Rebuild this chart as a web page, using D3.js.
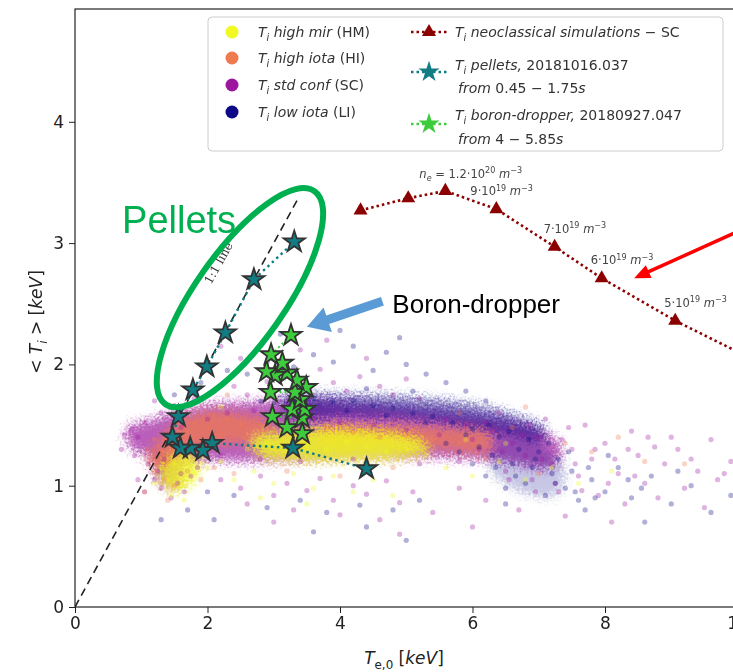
<!DOCTYPE html>
<html>
<head>
<meta charset="utf-8">
<script src="https://cdn.jsdelivr.net/npm/d3@7"></script>
<style>
  body { margin: 0; background: #fff; }
  svg { display: block; font-family: "DejaVu Sans", sans-serif; }
</style>
</head>
<body>
<svg id="chart" width="733" height="672"></svg>
<script>
// ---- data (Te,0 [keV], <Ti> [keV]) ----
const xTicks = [0, 2, 4, 6, 8, 10];
const yTicks = [0, 1, 2, 3, 4];

// dense cores of the scatter cloud (outlines)
const coreSC = [[[0.80,1.48],[1.13,1.54],[1.89,1.66],[2.64,1.69],[3.40,1.71],[4.15,1.68],[4.91,1.64],[5.67,1.60],[6.42,1.54],[7.00,1.46],[7.35,1.32],[7.20,1.15],[6.42,1.20],[5.67,1.23],[4.91,1.23],[4.15,1.23],[3.40,1.21],[2.64,1.20],[1.89,1.20],[1.44,1.13],[1.13,1.23],[0.80,1.34]],
                [[1.20,1.25],[1.50,1.22],[1.62,1.02],[1.40,0.98],[1.22,1.08]]];
const coreLI = [[[3.10,1.72],[4.15,1.75],[5.21,1.72],[6.12,1.66],[6.70,1.57],[7.10,1.47],[7.05,1.36],[6.60,1.40],[5.97,1.48],[5.21,1.54],[4.15,1.57],[3.25,1.57]],
                [[6.34,1.36],[7.02,1.32],[7.40,1.13],[7.25,0.92],[6.72,0.95],[6.27,1.13]]];
const coreHI = [[[1.28,1.38],[1.59,1.54],[2.04,1.61],[2.64,1.58],[3.02,1.50],[2.79,1.38],[2.19,1.34],[1.74,1.29],[1.36,1.13],[1.10,1.20]],
                [[3.70,1.48],[4.61,1.50],[5.51,1.48],[6.27,1.42],[6.27,1.29],[5.36,1.31],[4.46,1.33],[3.70,1.34]]];
const coreHM = [[[2.64,1.38],[3.25,1.46],[4.00,1.47],[4.76,1.44],[5.21,1.38],[5.36,1.29],[4.91,1.23],[4.15,1.21],[3.40,1.21],[2.79,1.25]],
                [[1.36,1.21],[1.66,1.28],[1.89,1.20],[1.81,1.05],[1.51,0.95],[1.28,1.05]]];

// sparse points around the cores
const haloSC = [[0.75,1.42],[0.85,1.46],[0.95,1.40],[0.70,1.30],[0.90,1.25],[1.05,1.52],[1.10,1.18],[1.20,1.05],[1.30,0.98],[1.25,1.12],[1.35,1.22],[1.45,0.90],[1.55,1.02],[1.60,1.10],[1.65,0.95],[1.75,1.08],[1.85,1.15],[1.30,1.60],[1.50,1.66],[1.20,1.70],[1.80,1.72],[1.05,0.95],[0.95,1.05],
  [2.10,1.78],[2.40,1.82],[2.60,1.75],[2.90,1.86],[3.20,1.92],[3.50,1.80],[3.70,1.96],[3.90,1.85],[4.10,1.78],[4.30,1.90],[4.60,1.82],[4.80,1.75],[5.00,1.88],[2.50,2.05],[3.40,2.12],[3.80,2.20],[4.40,2.05],[5.20,1.72],[2.20,2.15],
  [2.20,1.05],[2.50,0.98],[2.80,1.08],[3.00,0.92],[3.20,1.02],[3.50,0.96],[3.70,1.06],[3.90,0.88],[4.20,1.00],[4.40,0.93],[4.70,1.04],[4.90,0.86],[2.60,0.85],[3.30,0.80],[4.00,0.76],[4.60,0.72],[3.00,0.70],[5.10,0.95],
  [1.60,1.48],[2.00,1.55],[2.30,1.60],[2.70,1.62],[3.10,1.58],[3.60,1.55],[4.00,1.52],[4.50,1.50],[5.00,1.46],[5.50,1.42],[6.00,1.38],[2.20,1.25],[2.80,1.22],[3.40,1.20],[4.20,1.22],[5.20,1.18],[5.80,1.20],
  [5.60,1.55],[5.90,1.50],[6.10,1.30],[6.30,1.45],[6.50,1.12],[6.60,1.35],[6.80,1.25],[6.90,1.05],[7.00,1.40],[7.20,1.18],[7.30,0.95],[7.50,1.30],[7.60,1.08],[7.80,1.22],[7.90,0.92],[8.00,1.35],[8.20,1.10],[8.30,0.85],[8.50,1.25],[8.60,1.02],[8.80,0.90],[8.90,1.18],[9.10,1.30],[9.20,0.98],[9.40,1.12],[9.50,0.82],[9.70,1.05],[9.90,1.20],[10.0,0.95],[6.20,0.88],[6.70,0.80],[7.40,0.75],[8.10,0.70],[5.80,0.98],[6.40,1.60],[7.10,1.55],[7.70,1.50],[8.40,1.45],[9.00,1.40],[9.60,1.38],[5.40,0.78],[4.90,0.60],[6.00,0.66],
  [6.20,1.52],[6.45,1.28],[6.75,1.42],[7.05,1.22],[7.35,1.38],[7.55,1.18],[7.85,1.30],[8.15,1.22],[8.45,1.08],[8.75,1.32],[7.25,1.02],[6.95,0.95],[7.65,0.96],[8.05,1.02],[8.35,1.30],[6.55,1.05],[6.85,1.50],[7.45,1.48],[8.65,1.40],[9.30,1.22],[9.80,1.10]];
const haloLI = [[2.60,1.92],[2.90,2.02],[3.30,1.98],[3.60,2.08],[3.90,2.02],[4.20,2.15],[4.50,1.95],[4.70,2.10],[5.00,2.00],[5.30,1.92],[3.10,2.25],[4.00,2.28],[4.90,2.22],[5.60,1.85],[5.90,1.78],[6.20,1.70],[3.40,1.82],[4.40,1.80],[5.10,1.78],[2.80,1.70],
  [3.00,1.68],[3.30,1.70],[3.60,1.72],[3.90,1.69],[4.20,1.70],[4.50,1.66],[4.80,1.64],[5.10,1.60],[5.40,1.57],[5.70,1.52],[6.00,1.47],[3.50,1.63],[4.10,1.62],[4.70,1.58],[5.30,1.52],
  [5.60,1.35],[5.80,1.28],[5.90,1.42],[6.00,1.18],[6.10,1.32],[6.20,1.08],[6.30,1.25],[6.40,1.40],[6.50,0.98],[6.60,1.18],[6.70,1.30],[6.80,1.02],[6.90,1.15],[7.00,1.28],[7.10,0.92],[7.20,1.10],[7.30,1.22],[7.40,0.98],[7.50,1.12],[7.60,0.88],[7.80,1.05],[8.00,0.95],[8.20,1.15],[8.40,0.90],[8.70,1.08],[9.00,0.85],[9.30,1.00],[9.60,0.78],[9.90,0.92],[8.60,0.70],[7.70,0.80],[6.50,0.85],
  [2.40,0.92],[2.90,0.82],[3.40,0.88],[3.80,0.78],[4.30,0.84],[4.80,0.80],[5.20,0.88],[5.00,0.55],[3.60,0.62],[4.40,0.66],[2.10,0.72],
  [1.30,0.72],[1.70,0.80],[2.00,0.95],[1.50,1.75],[1.90,1.85],[2.30,1.95],
  [6.25,1.50],[6.55,1.45],[6.85,1.38],[7.15,1.35],[7.45,1.28],[7.75,1.15],[8.05,1.25],[8.35,1.05],[6.35,1.15],[6.65,1.08],[6.95,1.22],[7.25,1.02],[7.55,0.95],[7.85,0.90],[8.55,0.98],[9.10,1.12]];
const haloHI = [[1.10,1.30],[1.20,1.38],[1.30,1.28],[1.40,1.20],[1.50,1.40],[1.60,1.30],[1.70,1.45],[1.80,1.52],[1.90,1.38],[2.00,1.48],[2.10,1.58],[2.20,1.42],[2.30,1.55],[2.50,1.50],[2.60,1.40],[1.20,1.12],[1.35,1.05],[1.50,1.00],[1.70,1.12],[1.90,1.05],[2.10,1.15],[2.40,1.10],[1.05,0.95],[1.40,0.88],
  [3.00,1.45],[3.40,1.40],[3.80,1.48],[4.20,1.44],[4.60,1.40],[5.00,1.42],[5.40,1.38],[5.80,1.35],[3.20,1.12],[4.00,1.08],[4.80,1.15],
  [6.20,1.22],[6.60,1.48],[7.00,1.10],[7.40,1.35],[7.80,1.28],[8.20,1.40],[8.60,1.20],[9.20,1.18],[5.80,1.60],[6.80,1.65],[2.30,1.75]];
const haloHM = [[1.30,1.15],[1.40,1.05],[1.50,1.18],[1.60,1.00],[1.70,1.22],[1.80,1.10],[1.90,1.25],[1.45,0.92],[1.65,0.88],[1.20,1.02],[2.00,1.15],[2.20,1.20],
  [2.60,1.30],[2.90,1.35],[3.20,1.28],[3.50,1.33],[3.80,1.30],[4.10,1.36],[4.40,1.32],[4.70,1.28],[5.00,1.30],[5.30,1.25],
  [2.40,1.05],[2.70,1.12],[3.00,1.02],[3.30,1.10],[3.60,0.98],[3.90,1.08],[4.20,0.95],[4.50,1.05],[4.80,0.92],[2.80,0.90],[3.50,0.85],
  [5.60,1.15],[6.00,1.08],[6.40,1.20],[6.80,1.05],[7.20,1.15],[7.60,1.02],[8.10,1.12],[5.90,1.38],[6.50,1.35],[2.20,1.65],[3.00,1.55]];

// neoclassical simulations (SC)
const neoTe = [4.31, 5.03, 5.59, 6.36, 7.24, 7.95, 9.06, 10.2];
const neoTi = [3.27, 3.37, 3.43, 3.28, 2.97, 2.71, 2.36, 2.05];
const neoLabels = [
  {i: 2, pre: "n", mant: " = 1.2·10", exp: "20"},
  {i: 3, pre: "", mant: "9·10", exp: "19"},
  {i: 4, pre: "", mant: "7·10", exp: "19"},
  {i: 5, pre: "", mant: "6·10", exp: "19"},
  {i: 6, pre: "", mant: "5·10", exp: "19"}
];

// pellets, 20181016.037 (time order)
const pelTe = [4.40, 3.29, 2.07, 1.93, 1.74, 1.59, 1.47, 1.56, 1.78, 1.99, 2.27, 2.70, 3.31];
const pelTi = [1.14, 1.31, 1.35, 1.29, 1.31, 1.31, 1.40, 1.57, 1.79, 1.98, 2.26, 2.70, 3.01];

// boron-dropper, 20180927.047
const borTe = [3.43, 3.20, 3.43, 2.98, 3.47, 3.28, 3.40, 3.32, 2.95, 3.49, 3.35, 3.20, 3.02, 2.89, 3.13, 2.96, 3.26];
const borTi = [1.43, 1.48, 1.56, 1.57, 1.63, 1.63, 1.71, 1.77, 1.77, 1.81, 1.87, 1.93, 1.91, 1.94, 2.01, 2.08, 2.24];

const oneToOne = [[0, 0], [3.35, 3.35]];

// ---- colours ----
const cHM = "#f0f921", cHI = "#ef7a50", cSC = "#9c179e", cLI = "#0d0887";
const cNeo = "#8b0000", cPel = "#117c84", cBor = "#3ccc3c";
const cGreen = "#00b050", cBlue = "#5b9bd5";

// ---- scales ----
const svg = d3.select("#chart");
const x = d3.scaleLinear().domain([0, 10]).range([75, 737.5]);
const y = d3.scaleLinear().domain([0, 4.93]).range([607, 9]);

const defs = svg.append("defs");
defs.append("clipPath").attr("id", "plot")
  .append("rect").attr("x", 75).attr("y", 9).attr("width", 670).attr("height", 598);
// grainy soft edge for the dense parts of the cloud
const flt = defs.append("filter").attr("id", "grain")
  .attr("x", "-20%").attr("y", "-60%").attr("width", "140%").attr("height", "220%");
flt.append("feGaussianBlur").attr("in", "SourceGraphic").attr("stdDeviation", 4.5).attr("result", "b");
flt.append("feTurbulence").attr("type", "fractalNoise").attr("baseFrequency", 0.45)
  .attr("numOctaves", 2).attr("seed", 3).attr("result", "n");
flt.append("feDisplacementMap").attr("in", "b").attr("in2", "n").attr("scale", 18)
  .attr("xChannelSelector", "R").attr("yChannelSelector", "G");

const plot = svg.append("g").attr("clip-path", "url(#plot)");

// ---- scatter cloud ----
const blob = d3.line().x(d => x(d[0])).y(d => y(d[1])).curve(d3.curveCatmullRomClosed.alpha(0.5));
const clouds = [
  [coreSC, haloSC, cSC, [0.7, 0.7]],
  [coreLI, haloLI, cLI, [0.55, 0.22]],
  [coreHI, haloHI, cHI, [0.75, 0.7]],
  [coreHM, haloHM, cHM, [0.85, 0.8]]
];
clouds.forEach(([cores, halo, col, op]) => {
  plot.append("g").attr("filter", "url(#grain)")
    .selectAll("path").data(cores).join("path")
    .attr("d", blob).attr("fill", col).attr("opacity", (d, k) => op[k]);
});
clouds.forEach(([cores, halo, col]) => {
  plot.append("g").selectAll("circle").data(halo).join("circle")
    .attr("cx", d => x(d[0])).attr("cy", d => y(d[1])).attr("r", 2.6)
    .attr("fill", col).attr("opacity", 0.32);
});

// ---- 1:1 line ----
plot.append("path")
  .attr("d", d3.line().x(d => x(d[0])).y(d => y(d[1]))(oneToOne))
  .attr("stroke", "#222").attr("stroke-width", 1.6).attr("stroke-dasharray", "8,5").attr("fill", "none");
plot.append("text")
  .attr("transform", `translate(${x(2.22)},${y(2.82)}) rotate(-61)`)
  .attr("text-anchor", "middle").attr("font-size", 12).attr("fill", "#333")
  .attr("font-family", "DejaVu Serif").text("1:1 line");

// ---- series lines and markers ----
const lineXY = (xs, ys) => d3.line().x((d, i) => x(xs[i])).y((d, i) => y(ys[i]))(xs);
const star = d3.symbol().type(d3.symbolStar).size(140);
const tri = d3.symbol().type(d3.symbolTriangle).size(85);

plot.append("path").attr("d", lineXY(borTe, borTi))
  .attr("fill", "none").attr("stroke", cBor).attr("stroke-width", 2).attr("stroke-dasharray", "2,3");
plot.append("path").attr("d", lineXY(pelTe, pelTi))
  .attr("fill", "none").attr("stroke", cPel).attr("stroke-width", 2.4).attr("stroke-dasharray", "2.5,3.5");

plot.append("g").selectAll("path").data(borTe).join("path")
  .attr("transform", (d, i) => `translate(${x(d)},${y(borTi[i])})`)
  .attr("d", star).attr("fill", cBor).attr("stroke", "#333").attr("stroke-width", 1.8);
plot.append("g").selectAll("path").data(pelTe).join("path")
  .attr("transform", (d, i) => `translate(${x(d)},${y(pelTi[i])})`)
  .attr("d", star).attr("fill", cPel).attr("stroke", "#333").attr("stroke-width", 1.8);

plot.append("path").attr("d", lineXY(neoTe, neoTi))
  .attr("fill", "none").attr("stroke", cNeo).attr("stroke-width", 2.6).attr("stroke-dasharray", "2.5,3");
plot.append("g").selectAll("path").data(neoTe).join("path")
  .attr("transform", (d, i) => `translate(${x(d)},${y(neoTi[i])})`)
  .attr("d", tri).attr("fill", cNeo);

// rich text helper: parts = [text, "i|n [sub|sup]"]
function rich(g, x0, y0, parts, size, fill) {
  const t = g.append("text").attr("x", x0).attr("y", y0).attr("font-size", size).attr("fill", fill);
  let shift = 0;
  parts.forEach(([s, k]) => {
    const f = k.split(" ");
    let target = 0;
    const sp = t.append("tspan").text(s).attr("font-style", f.includes("i") ? "italic" : "normal");
    if (f.includes("sub")) { target = size * 0.3; sp.attr("font-size", size * 0.7); }
    if (f.includes("sup")) { target = -size * 0.4; sp.attr("font-size", size * 0.7); }
    if (target - shift !== 0) sp.attr("dy", target - shift);
    shift = target;
  });
  return t;
}

neoLabels.forEach(l => {
  const px = x(neoTe[l.i]) - (l.i < 4 ? 26 : 11);
  const py = y(neoTi[l.i]) - (l.i < 3 ? 13 : 14);
  const parts = [];
  if (l.pre) { parts.push([l.pre, "i"], ["e", "i sub"]); }
  parts.push([l.mant, "n"], [l.exp, "n sup"], [" m", "i"], ["−3", "n sup"]);
  rich(plot, px, py, parts, 11.5, "#444");
});

// ---- axes ----
const xAxis = svg.append("g").attr("transform", "translate(0,607)")
  .call(d3.axisBottom(x).tickValues(xTicks).tickSize(6).tickPadding(4).tickFormat(d3.format("d")));
const yAxis = svg.append("g").attr("transform", "translate(75,0)")
  .call(d3.axisLeft(y).tickValues(yTicks).tickSize(6).tickPadding(5).tickFormat(d3.format("d")));
[xAxis, yAxis].forEach(a => {
  a.select(".domain").remove();
  a.selectAll("text").attr("font-size", 17).attr("font-family", "DejaVu Sans").attr("fill", "#222");
  a.selectAll("line").attr("stroke", "#222");
});
svg.append("rect").attr("x", 75).attr("y", 9).attr("width", 670).attr("height", 598)
  .attr("fill", "none").attr("stroke", "#222").attr("stroke-width", 1.2);

rich(svg, 0, 0, [["< ", "n"], ["T", "i"], ["i", "i sub"], [" > [", "n"], ["keV", "i"], ["]", "n"]], 17, "#222")
  .attr("text-anchor", "middle").attr("transform", "translate(42,322) rotate(-90)");
rich(svg, 0, 0, [["T", "i"], ["e,0", "n sub"], [" [", "n"], ["keV", "i"], ["]", "n"]], 17, "#222")
  .attr("text-anchor", "middle").attr("transform", "translate(404,664)");

// ---- legend ----
const lg = svg.append("g");
lg.append("rect").attr("x", 208).attr("y", 17).attr("width", 515).attr("height", 134).attr("rx", 4)
  .attr("fill", "#fff").attr("fill-opacity", 0.85).attr("stroke", "#ccc");
const leftRows = [
  [cHM, "high mir ", "(HM)"],
  [cHI, "high iota ", "(HI)"],
  [cSC, "std conf ", "(SC)"],
  [cLI, "low iota  ", "(LI)"]
];
const rowY = [37, 63, 90, 117];
leftRows.forEach((r, k) => {
  lg.append("circle").attr("cx", 232).attr("cy", rowY[k] - 5).attr("r", 6.5).attr("fill", r[0]);
  rich(lg, 258, rowY[k], [["T", "i"], ["i", "i sub"], [" " + r[1], "i"], [r[2], "n"]], 14, "#333");
});
const legLine = (yy, col) => lg.append("line").attr("x1", 411).attr("x2", 447).attr("y1", yy).attr("y2", yy)
  .attr("stroke", col).attr("stroke-width", 2.4).attr("stroke-dasharray", "2.5,3");
legLine(32, cNeo);
lg.append("path").attr("transform", "translate(429,32)").attr("d", tri).attr("fill", cNeo);
rich(lg, 455, 37, [["T", "i"], ["i", "i sub"], [" neoclassical simulations − ", "i"], [" SC", "n"]], 14, "#333");

legLine(72, cPel);
lg.append("path").attr("transform", "translate(429,72)").attr("d", star).attr("fill", cPel);
rich(lg, 455, 70, [["T", "i"], ["i", "i sub"], [" pellets,", "i"], ["  20181016.037", "n"]], 14, "#333");
rich(lg, 458, 93, [["from", "i"], [" 0.45 − 1.75", "n"], ["s", "i"]], 14, "#333");

legLine(124, cBor);
lg.append("path").attr("transform", "translate(429,124)").attr("d", star).attr("fill", cBor);
rich(lg, 455, 120, [["T", "i"], ["i", "i sub"], [" boron-dropper,", "i"], ["  20180927.047", "n"]], 14, "#333");
rich(lg, 458, 144, [["from", "i"], [" 4 − 5.85", "n"], ["s", "i"]], 14, "#333");

// ---- overlaid annotations ----
const ann = svg.append("g");
ann.append("ellipse")
  .attr("transform", `translate(${x(2.49)},${y(2.55)}) rotate(-55)`)
  .attr("rx", 130).attr("ry", 45).attr("fill", "none").attr("stroke", cGreen).attr("stroke-width", 6);
ann.append("text").attr("x", x(0.71)).attr("y", y(3.08))
  .attr("font-family", "Liberation Sans, Arial, sans-serif").attr("font-size", 38).attr("fill", cGreen).text("Pellets");
ann.append("text").attr("x", x(4.79)).attr("y", y(2.42))
  .attr("font-family", "Liberation Sans, Arial, sans-serif").attr("font-size", 26).attr("fill", "#000").text("Boron-dropper");

function arrow(from, to, col, shaftW, headL, headW) {
  const x0 = x(from[0]), y0 = y(from[1]), x1 = x(to[0]), y1 = y(to[1]);
  const L = Math.hypot(x1 - x0, y1 - y0), ux = (x1 - x0) / L, uy = (y1 - y0) / L;
  const nx = -uy, ny = ux;
  const bx = x1 - ux * headL, by = y1 - uy * headL;
  const pts = [
    [x0 + nx * shaftW / 2, y0 + ny * shaftW / 2],
    [bx + nx * shaftW / 2, by + ny * shaftW / 2],
    [bx + nx * headW / 2, by + ny * headW / 2],
    [x1, y1],
    [bx - nx * headW / 2, by - ny * headW / 2],
    [bx - nx * shaftW / 2, by - ny * shaftW / 2],
    [x0 - nx * shaftW / 2, y0 - ny * shaftW / 2]
  ];
  ann.append("path").attr("d", "M" + pts.map(p => p.join(",")).join("L") + "Z").attr("fill", col);
}
arrow([4.64, 2.52], [3.50, 2.31], cBlue, 9, 22, 26);
arrow([10.1, 3.12], [8.44, 2.71], "#ff0000", 3.5, 16, 14);
</script>
</body>
</html>
